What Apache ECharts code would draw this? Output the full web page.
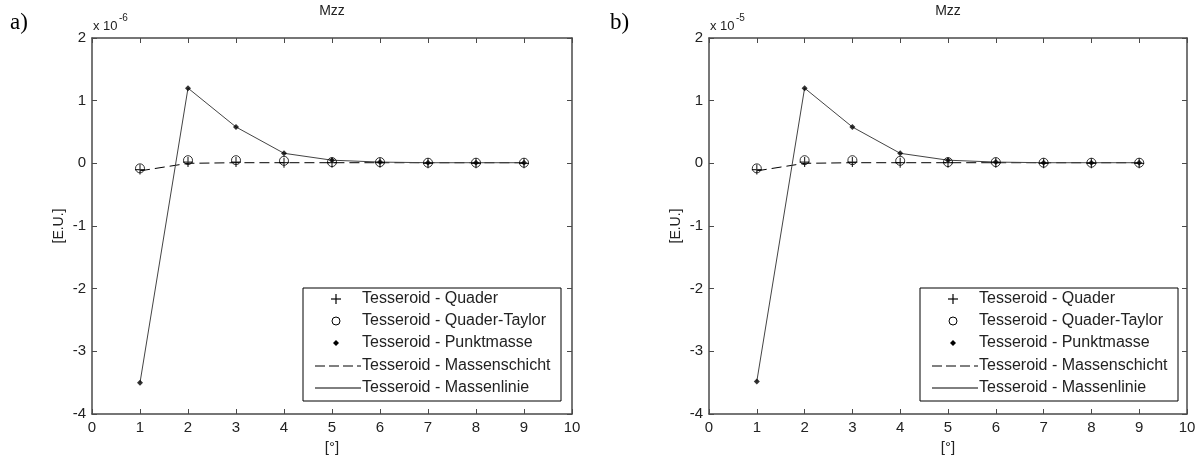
<!DOCTYPE html>
<html><head><meta charset="utf-8">
<script src="https://cdn.jsdelivr.net/npm/echarts@6/dist/echarts.min.js"></script>
<style>html,body{margin:0;padding:0;background:#fff}#c{width:1201px;height:460px}</style>
</head><body><div id="c"></div>
<script>
// ---- data ----
const xValues = [1, 2, 3, 4, 5, 6, 7, 8, 9];
const xTicks = [0, 1, 2, 3, 4, 5, 6, 7, 8, 9, 10];
const yTicks = [-4, -3, -2, -1, 0, 1, 2];
const legendNames = ['Tesseroid - Quader', 'Tesseroid - Quader-Taylor', 'Tesseroid - Punktmasse', 'Tesseroid - Massenschicht', 'Tesseroid - Massenlinie'];
// panel a (x 10^-6)
const aQuader       = [-0.10, 0.02, 0.02, 0.01, 0.01, 0.01, 0.00, 0.00, 0.00];
const aQuaderTaylor = [-0.08, 0.05, 0.05, 0.04, 0.02, 0.02, 0.01, 0.01, 0.01];
const aPunktmasse   = [-3.50, 1.20, 0.58, 0.16, 0.05, 0.02, 0.01, 0.01, 0.01];
const aMassenschicht= [-0.12, 0.00, 0.01, 0.01, 0.01, 0.01, 0.01, 0.01, 0.01];
const aMassenlinie  = [-3.50, 1.20, 0.58, 0.16, 0.05, 0.02, 0.01, 0.01, 0.01];
// panel b (x 10^-5)
const bQuader       = [-0.10, 0.02, 0.02, 0.01, 0.01, 0.01, 0.00, 0.00, 0.00];
const bQuaderTaylor = [-0.08, 0.05, 0.05, 0.04, 0.02, 0.02, 0.01, 0.01, 0.01];
const bPunktmasse   = [-3.48, 1.20, 0.58, 0.16, 0.05, 0.02, 0.01, 0.01, 0.01];
const bMassenschicht= [-0.12, 0.00, 0.01, 0.01, 0.01, 0.01, 0.01, 0.01, 0.01];
const bMassenlinie  = [-3.48, 1.20, 0.58, 0.16, 0.05, 0.02, 0.01, 0.01, 0.01];

const FONT = 'Liberation Sans, Arial, sans-serif';
const AX = '#4a4a4a';
const TXT = '#222';
const PLUS = 'path://M4.4,0H5.6V4.4H10V5.6H5.6V10H4.4V5.6H0V4.4H4.4Z';

const pairs = v => xValues.map((x, i) => [x, v[i]]);

const grids = [
  {left: 92, top: 38, width: 480, height: 376},
  {left: 709, top: 38, width: 478, height: 376}
];

const xAxes = [], yAxes = [];
grids.forEach((g, gi) => {
  const mk = () => ({gridIndex: gi, type: 'value', min: xTicks[0], max: xTicks[xTicks.length - 1], interval: 1,
    axisLine: {show: true, onZero: false, lineStyle: {color: AX, width: 1.5}},
    axisTick: {show: true, inside: true, length: 5, lineStyle: {color: AX}},
    splitLine: {show: false}});
  xAxes.push(Object.assign(mk(), {position: 'bottom',
    axisLabel: {color: TXT, fontFamily: FONT, fontSize: 15, margin: 6},
    name: '[°]', nameLocation: 'middle', nameGap: 21,
    nameTextStyle: {color: TXT, fontFamily: FONT, fontSize: 15}}));
  xAxes.push(Object.assign(mk(), {position: 'top', axisLabel: {show: false}}));
  const mky = () => ({gridIndex: gi, type: 'value', min: yTicks[0], max: yTicks[yTicks.length - 1], interval: 1,
    axisLine: {show: true, onZero: false, lineStyle: {color: AX, width: 1.5}},
    axisTick: {show: true, inside: true, length: 5, lineStyle: {color: AX}},
    splitLine: {show: false}});
  yAxes.push(Object.assign(mky(), {position: 'left',
    axisLabel: {color: TXT, fontFamily: FONT, fontSize: 15, margin: 6},
    name: '[E.U.]', nameLocation: 'middle', nameGap: 26,
    nameTextStyle: {color: TXT, fontFamily: FONT, fontSize: 14}}));
  yAxes.push(Object.assign(mky(), {position: 'right', axisLabel: {show: false}}));
});

function panelSeries(gi, q, qt, pm, ms, ml) {
  const xi = gi * 2, yi = gi * 2;
  return [
    {name: legendNames[3], type: 'line', xAxisIndex: xi, yAxisIndex: yi, data: pairs(ms), showSymbol: false,
      lineStyle: {color: '#000', width: 1, type: [10, 5]}, z: 2, silent: true},
    {name: legendNames[4], type: 'line', xAxisIndex: xi, yAxisIndex: yi, data: pairs(ml), showSymbol: false,
      lineStyle: {color: '#444', width: 1}, z: 2, silent: true},
    {name: legendNames[0], type: 'scatter', xAxisIndex: xi, yAxisIndex: yi, data: pairs(q), symbol: PLUS,
      symbolSize: 10, itemStyle: {color: '#000'}, z: 3},
    {name: legendNames[1], type: 'scatter', xAxisIndex: xi, yAxisIndex: yi, data: pairs(qt), symbol: 'circle',
      symbolSize: 9, itemStyle: {color: 'rgba(0,0,0,0)', borderColor: '#000', borderWidth: 1}, z: 4},
    {name: legendNames[2], type: 'scatter', xAxisIndex: xi, yAxisIndex: yi, data: pairs(pm), symbol: 'diamond',
      symbolSize: 6, itemStyle: {color: '#000'}, z: 5}
  ];
}

function legendGraphic(x0) {
  const y0 = 288, rowY = [299, 321, 343, 366, 388], ix = x0 + 33, tx = x0 + 59;
  const els = [{type: 'rect', shape: {x: x0, y: y0, width: 258, height: 113},
    style: {fill: '#fff', stroke: '#000', lineWidth: 1}, z: 10}];
  els.push({type: 'line', shape: {x1: ix - 5, y1: rowY[0], x2: ix + 5, y2: rowY[0]}, style: {stroke: '#000', lineWidth: 1.2}, z: 11});
  els.push({type: 'line', shape: {x1: ix, y1: rowY[0] - 5, x2: ix, y2: rowY[0] + 5}, style: {stroke: '#000', lineWidth: 1.2}, z: 11});
  els.push({type: 'circle', shape: {cx: ix, cy: rowY[1], r: 4}, style: {stroke: '#000', lineWidth: 1, fill: 'rgba(0,0,0,0)'}, z: 11});
  els.push({type: 'polygon', shape: {points: [[ix, rowY[2] - 3], [ix + 3, rowY[2]], [ix, rowY[2] + 3], [ix - 3, rowY[2]]]}, style: {fill: '#000'}, z: 11});
  els.push({type: 'line', shape: {x1: x0 + 12, y1: rowY[3], x2: tx - 1, y2: rowY[3]}, style: {stroke: '#000', lineWidth: 1, lineDash: [10, 4]}, z: 11});
  els.push({type: 'line', shape: {x1: x0 + 12, y1: rowY[4], x2: tx - 1, y2: rowY[4]}, style: {stroke: '#000', lineWidth: 1}, z: 11});
  legendNames.forEach((n, i) => {
    els.push({type: 'text', x: tx, y: rowY[i], style: {text: n, fill: TXT, font: '16px ' + FONT, verticalAlign: 'middle'}, z: 11});
  });
  return els;
}

function headGraphic(panelX, axisX, centerX, exp, label) {
  return [
    {type: 'text', x: panelX, y: 23, style: {text: label, fill: '#000', font: '23px Liberation Serif, Times New Roman, serif', verticalAlign: 'middle'}},
    {type: 'text', x: centerX, y: 11, style: {text: 'Mzz', fill: TXT, font: '14px ' + FONT, align: 'center', verticalAlign: 'middle'}},
    {type: 'text', x: axisX + 1, y: 26, style: {text: 'x 10', fill: TXT, font: '13px ' + FONT, verticalAlign: 'middle'}},
    {type: 'text', x: axisX + 27, y: 18, style: {text: exp, fill: TXT, font: '10px ' + FONT, verticalAlign: 'middle'}}
  ];
}

const chart = echarts.init(document.getElementById('c'), null, {renderer: 'canvas'});
chart.setOption({
  backgroundColor: '#fff',
  animation: false,
  grid: grids,
  xAxis: xAxes,
  yAxis: yAxes,
  series: panelSeries(0, aQuader, aQuaderTaylor, aPunktmasse, aMassenschicht, aMassenlinie)
    .concat(panelSeries(1, bQuader, bQuaderTaylor, bPunktmasse, bMassenschicht, bMassenlinie)),
  graphic: [].concat(
    headGraphic(10, 92, 332, '-6', 'a)'),
    headGraphic(610, 709, 948, '-5', 'b)'),
    legendGraphic(303),
    legendGraphic(920)
  )
});
</script></body></html>
